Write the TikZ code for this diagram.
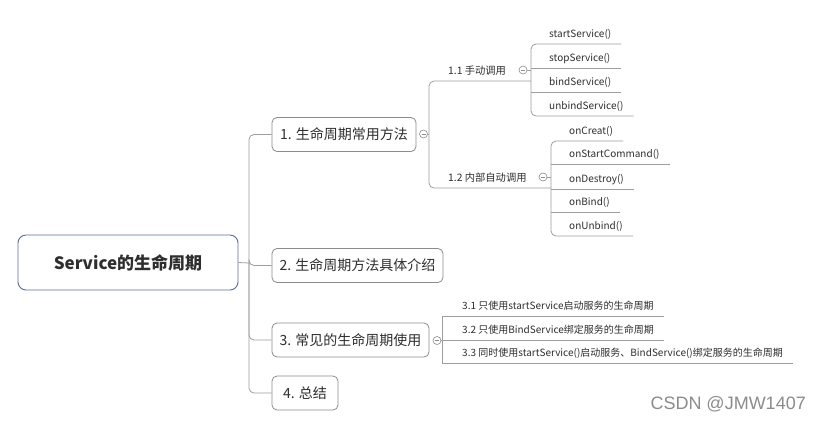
\documentclass[tikz,border=0pt]{standalone}
\usepackage{fontspec}
\setmainfont{Noto Sans CJK SC}
\newfontfamily\wmfont{Liberation Sans}
\definecolor{txt}{HTML}{2E2E2E}
\definecolor{ln}{HTML}{9E9E9E}
\definecolor{bx}{HTML}{8C8C8C}
\definecolor{rootbd}{HTML}{5B6C9A}
\begin{document}
\begin{tikzpicture}[x=1pt,y=-1pt,
  conn/.style={draw=ln, line width=0.8pt},
  topbox/.style={draw=bx, line width=0.8pt, rounded corners=5pt, text=txt,
    font=\fontsize{14}{16}\selectfont, minimum height=34pt, inner sep=0pt},
  rootbox/.style={draw=rootbd, line width=0.9pt, rounded corners=8pt, text=txt,
    font=\fontsize{17}{20}\selectfont\bfseries, minimum width=220pt, minimum height=55pt},
  leaf/.style={anchor=south west, text=txt, font=\fontsize{10}{12}\selectfont,
    inner xsep=0pt, inner ysep=4.5pt, text height=7.5pt, text depth=2pt},
  sub/.style={leaf, font=\fontsize{10.3}{12}\selectfont},
  fold/.style={circle, draw=bx, line width=0.6pt, minimum size=8pt, inner sep=0pt, fill=white,
    path picture={\draw[bx, line width=0.6pt] ([xshift=-2pt]path picture bounding box.center) -- ([xshift=2pt]path picture bounding box.center);}}
]
\useasboundingbox[fill=white] (0,0) rectangle (818,421);

% root and first level
\node[rootbox] (root) at (128,262.5) {Service的生命周期};
\node[topbox, minimum width=144pt] (n1) at (344,134.5) {1. 生命周期常用方法};
\node[topbox, minimum width=171pt] (n2) at (357.5,265.5) {2. 生命周期方法具体介绍};
\node[topbox, minimum width=157pt] (n3) at (350.5,340) {3. 常见的生命周期使用};
\node[topbox, minimum width=66pt] (n4) at (305,393) {4. 总结};

\coordinate (t) at (249,263);
\draw[conn] (root.east) -- (t);
\draw[conn, rounded corners=5pt] (t) |- (n1.west);
\draw[conn, rounded corners=5pt] (t) |- (n2.west);
\draw[conn, rounded corners=5pt] (t) |- (n3.west);
\draw[conn, rounded corners=5pt] (t) |- (n4.west);

% branch 1
\node[fold] (f1) at (423.5,134) {};
\coordinate (v1) at (429,134);
\node[sub] (l11) at (448,81) {1.1 手动调用};
\node[sub] (l12) at (448,188) {1.2 内部自动调用};
\coordinate (b11) at (531,80);
\coordinate (b12) at (551,188);
\draw[conn] (f1.east) -- (v1);
\draw[conn, rounded corners=5pt] (l11.south -| b11) -- (l11.south -| v1) -- (l12.south -| v1) -- (l12.south -| b12);
\node[fold] (f11) at (523,70) {};
\node[fold] (f12) at (543,177) {};

% 1.1 children
\node[leaf] (s1) at (549,44) {startService()};
\node[leaf] (s2) at (549,68) {stopService()};
\node[leaf] (s3) at (549,92) {bindService()};
\node[leaf] (s4) at (549,116) {unbindService()};
\draw[conn] (f11.east) -- (b11 |- f11);
\draw[conn, rounded corners=5pt] ([xshift=10pt]s1.south east) -- (b11 |- s1.south) -- (b11 |- s4.south) -- ([xshift=10pt]s4.south east);
\draw[conn] (b11 |- s2.south) -- ([xshift=10pt]s2.south east);
\draw[conn] (b11 |- s3.south) -- ([xshift=10pt]s3.south east);

% 1.2 children
\node[leaf] (o1) at (569,141) {onCreat()};
\node[leaf] (o2) at (569,164) {onStartCommand()};
\node[leaf] (o3) at (569,189) {onDestroy()};
\node[leaf] (o4) at (569,212) {onBind()};
\node[leaf] (o5) at (569,236) {onUnbind()};
\draw[conn] (f12.east) -- (b12 |- f12);
\draw[conn, rounded corners=5pt] ([xshift=10pt]o1.south east) -- (b12 |- o1.south) -- (b12 |- o5.south) -- ([xshift=10pt]o5.south east);
\draw[conn] (b12 |- o2.south) -- ([xshift=10pt]o2.south east);
\draw[conn] (b12 |- o3.south) -- ([xshift=10pt]o3.south east);
\draw[conn] (b12 |- o4.south) -- ([xshift=10pt]o4.south east);

% branch 3
\node[fold] (f3) at (437,340.5) {};
\coordinate (b3) at (442,340);
\node[leaf] (u1) at (462,316) {3.1 只使用startService启动服务的生命周期};
\node[leaf] (u2) at (462,340) {3.2 只使用BindService绑定服务的生命周期};
\node[leaf] (u3) at (462,363) {3.3 同时使用startService()启动服务、BindService()绑定服务的生命周期};
\draw[conn] (f3.east) -- (b3 |- f3);
\draw[conn] ([xshift=10pt]u1.south east) -- (b3 |- u1.south) -- (b3 |- u3.south) -- ([xshift=10pt]u3.south east);
\draw[conn] (b3 |- u2.south) -- ([xshift=10pt]u2.south east);

% watermark
\node[font=\wmfont\fontsize{18}{20}\selectfont, text=black!45, anchor=east, inner sep=0pt] (wm) at (806,404) {CSDN @JMW1407};
\end{tikzpicture}
\end{document}
